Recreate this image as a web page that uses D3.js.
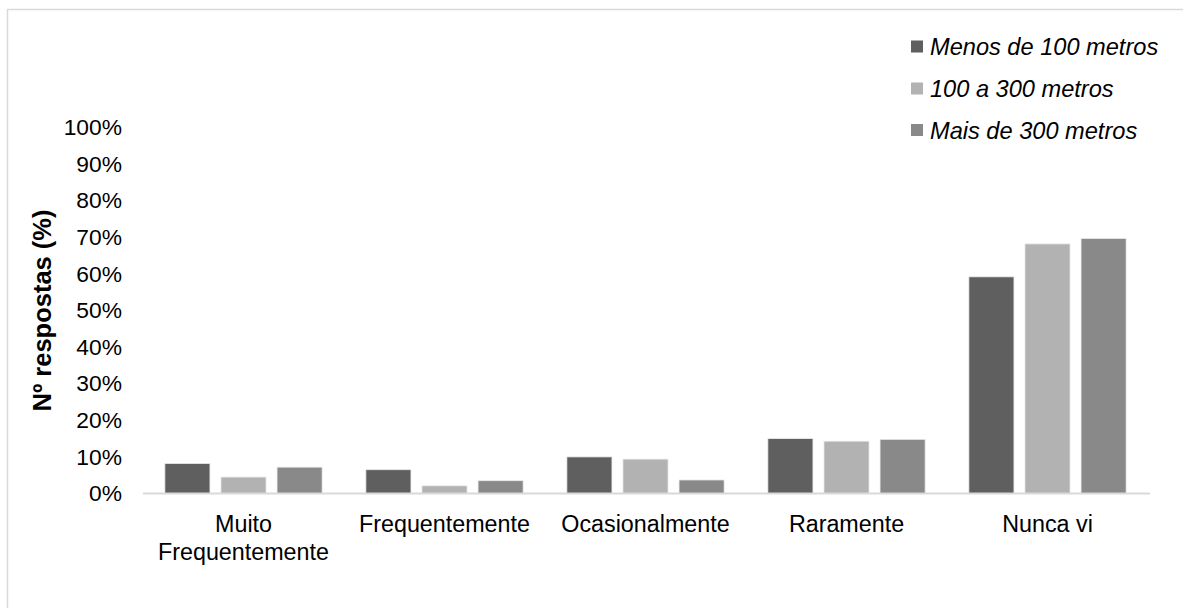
<!DOCTYPE html>
<html>
<head>
<meta charset="utf-8">
<script src="https://cdn.jsdelivr.net/npm/d3@7"></script>
<style>
  html, body { margin: 0; padding: 0; background: #fff; }
  svg { display: block; font-family: "Liberation Sans", Arial, sans-serif; }
</style>
</head>
<body>
<svg id="chart" width="1183" height="608"></svg>
<script>
const categories = ["Muito Frequentemente", "Frequentemente", "Ocasionalmente", "Raramente", "Nunca vi"];
const seriesNames = ["Menos de 100 metros", "100 a 300 metros", "Mais de 300 metros"];
const menos100 = [8.2, 6.5, 10.0, 15.0, 59.2];
const de100a300 = [4.5, 2.1, 9.4, 14.3, 68.2];
const mais300 = [7.2, 3.5, 3.7, 14.8, 69.7];
const yTicks = [0, 10, 20, 30, 40, 50, 60, 70, 80, 90, 100];
const seriesValues = [menos100, de100a300, mais300];
const colors = ["#5f5f5f", "#b2b2b2", "#898989"];

const svg = d3.select("#chart");
const FS = 23.3;

// outer frame
svg.append("rect").attr("x", 7.5).attr("y", 9.5).attr("width", 1300).attr("height", 800)
  .attr("fill", "none").attr("stroke", "#d9d9d9").attr("stroke-width", 1.5);

const plot = { left: 143, right: 1148, top: 127.5, bottom: 493.5 };

const x0 = d3.scaleBand().domain(categories).range([plot.left, plot.right]).padding(0);
const x1 = d3.scaleBand().domain(seriesNames).range([0, x0.bandwidth()])
  .paddingInner(0.196).paddingOuter(0.39);
const y = d3.scaleLinear().domain([0, 100]).range([plot.bottom, plot.top]);

// bars
const groups = svg.append("g").selectAll("g").data(categories).join("g")
  .attr("transform", d => `translate(${x0(d)},0)`);
groups.selectAll("rect")
  .data((c, i) => seriesNames.map((s, j) => ({ s, j, v: seriesValues[j][i] })))
  .join("rect")
  .attr("x", d => x1(d.s))
  .attr("width", x1.bandwidth())
  .attr("y", d => y(d.v))
  .attr("height", d => y(0) - y(d.v))
  .attr("fill", d => colors[d.j])
  .attr("stroke", "#ececec").attr("stroke-width", 0.8);

// x axis line
svg.append("line").attr("x1", plot.left).attr("x2", plot.right + 2)
  .attr("y1", y(0)).attr("y2", y(0))
  .attr("stroke", "#d9d9d9").attr("stroke-width", 2);

// y axis labels
const yAxis = d3.axisLeft(y).tickValues(yTicks).tickFormat(d => d + "%").tickSize(0).tickPadding(0);
const yg = svg.append("g").attr("transform", `translate(122,0)`).call(yAxis);
yg.select(".domain").remove();
yg.selectAll("text").attr("font-size", FS - 0.5).attr("fill", "#000")
  .attr("font-family", "Liberation Sans, Arial, sans-serif");

// x axis labels
const xLabelLines = { "Muito Frequentemente": ["Muito", "Frequentemente"] };
categories.forEach(c => {
  const lines = xLabelLines[c] || [c];
  const cx = x0(c) + x0.bandwidth() / 2;
  const t = svg.append("text").attr("text-anchor", "middle")
    .attr("font-size", FS).attr("fill", "#000")
    .attr("x", cx).attr("y", 531.5);
  lines.forEach((l, i) => t.append("tspan").attr("x", cx)
    .attr("dy", i === 0 ? 0 : 28).text(l));
});

// y title
svg.append("text").attr("transform", `translate(51,${(plot.top + plot.bottom) / 2}) rotate(-90)`)
  .attr("text-anchor", "middle").attr("font-size", 25.5).attr("font-weight", "bold")
  .attr("fill", "#000").text("Nº respostas (%)");

// legend
const legend = svg.append("g");
const legendBase = [55, 97, 138.5];
seriesNames.forEach((s, i) => {
  const b = legendBase[i];
  legend.append("rect").attr("x", 911).attr("y", b - 14.5).attr("width", 12).attr("height", 12)
    .attr("fill", colors[i]);
  legend.append("text").attr("x", 930).attr("y", b)
    .attr("font-size", FS + 0.3).attr("font-style", "italic").attr("fill", "#000").text(s);
});
</script>
</body>
</html>
